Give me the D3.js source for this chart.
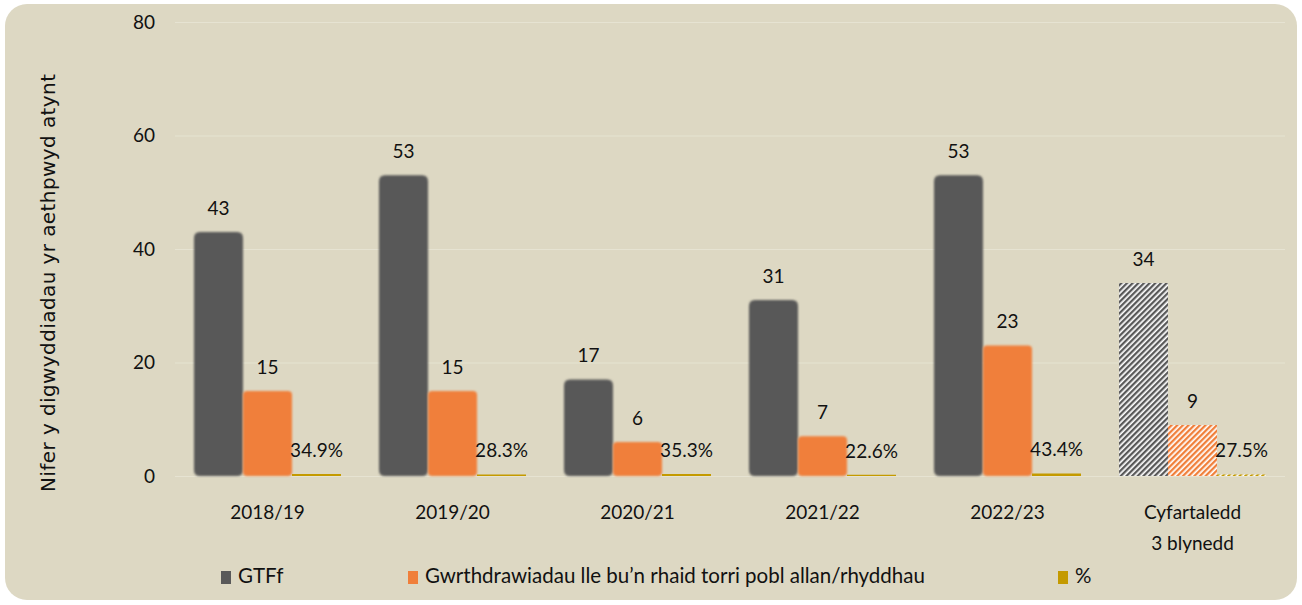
<!DOCTYPE html>
<html><head><meta charset="utf-8">
<script src="https://cdn.jsdelivr.net/npm/d3@7"></script>
<style>body{margin:0;background:#fff;} svg{display:block;}</style>
</head><body>
<svg id="c" width="1302" height="605"></svg>
<script>
const categories = ["2018/19","2019/20","2020/21","2021/22","2022/23","Cyfartaledd\n3 blynedd"];
const gtff = [43,53,17,31,53,34];
const extrications = [15,15,6,7,23,9];
const pct = [0.349,0.283,0.353,0.226,0.434,0.275];
const yTicks = [0,20,40,60,80];
const seriesNames = ["GTFf","Gwrthdrawiadau lle bu’n rhaid torri pobl allan/rhyddhau","%"];
const colors = ["#595959","#f07f3a","#c49a00"];

const svg = d3.select("#c");
const defs = svg.append("defs");
const mkPat = (id, col) => {
  const p = defs.append("pattern").attr("id", id).attr("patternUnits","userSpaceOnUse")
    .attr("width",4).attr("height",4).attr("patternTransform","rotate(45)");
  p.append("rect").attr("width",4).attr("height",4).attr("fill","#ffffff");
  p.append("rect").attr("width",2.3).attr("height",4).attr("fill",col);
};
mkPat("h0", colors[0]); mkPat("h1", colors[1]); mkPat("h2", colors[2]);
const f = defs.append("filter").attr("id","sh").attr("x","-20%").attr("y","-20%").attr("width","140%").attr("height","140%");
f.append("feGaussianBlur").attr("stdDeviation",0.8);

svg.append("rect").attr("x",5).attr("y",4).attr("width",1292).attr("height",596)
  .attr("rx",22).attr("fill","#ddd8c3");

const font = "Lato, 'Open Sans', sans-serif";
const x = d3.scaleBand().domain(categories).range([175,1285]).paddingInner(0).paddingOuter(0);
const y = d3.scaleLinear().domain([0,80]).range([476,22]);
const x1 = d3.scaleBand().domain([0,1,2]).range([19, 166]).paddingInner(0).paddingOuter(0);

// gridlines
svg.append("g").selectAll("line").data(yTicks).join("line")
  .attr("x1",175).attr("x2",1285).attr("y1",d=>y(d)+0.5).attr("y2",d=>y(d)+0.5)
  .attr("stroke","#e6e3d2").attr("stroke-width",1.2);

// y axis
const ya = d3.axisLeft(y).tickValues(yTicks).tickSize(0).tickPadding(0);
const yg = svg.append("g").attr("transform","translate(155,0)").call(ya);
yg.select(".domain").remove();
yg.selectAll("text").attr("font-family",font).attr("font-size",19).attr("fill","#111");

svg.append("text").attr("transform","translate(49,283) rotate(-90)")
  .attr("text-anchor","middle").attr("dominant-baseline","middle")
  .attr("font-family","'DejaVu Sans', Verdana, sans-serif").attr("font-size",20).attr("fill","#111")
  .attr("textLength",418).attr("lengthAdjust","spacing")
  .text("Nifer y digwyddiadau yr aethpwyd atynt");

const series = [gtff, extrications, pct];
const fmt = [d=>d, d=>d, d=>(d*100).toFixed(1)+"%"];
const radii = [6,4,0];
const last = categories.length-1;
series.forEach((vals, s) => {
  const g = svg.append("g");
  g.selectAll("path").data(vals).join("path")
    .attr("filter", (d,i)=> (i===last||s===2) ? null : "url(#sh)")
    .attr("fill",(d,i)=> i===last ? `url(#h${s})` : colors[s])
    .attr("d",(d,i)=>{
      const x0 = x(categories[i]) + x1(s), w = x1.bandwidth();
      const y0 = y(d), h = y(0)-y(d);
      const r = i===last ? 0 : Math.min(radii[s], h/2, w/2);
      const p = d3.path();
      p.moveTo(x0+r,y0); p.lineTo(x0+w-r,y0); p.quadraticCurveTo(x0+w,y0,x0+w,y0+r);
      p.lineTo(x0+w,y0+h-r); p.quadraticCurveTo(x0+w,y0+h,x0+w-r,y0+h);
      p.lineTo(x0+r,y0+h); p.quadraticCurveTo(x0,y0+h,x0,y0+h-r);
      p.lineTo(x0,y0+r); p.quadraticCurveTo(x0,y0,x0+r,y0); p.closePath();
      return p.toString();
    });
  g.selectAll("text").data(vals).join("text")
    .attr("x",(d,i)=> x(categories[i]) + x1(s) + x1.bandwidth()/2)
    .attr("y",d=> y(d) - 22)
    .attr("text-anchor","middle").attr("dominant-baseline","middle")
    .attr("font-family",font).attr("font-size",19).attr("fill","#111")
    .text(d=>fmt[s](d));
});

// x axis labels
const xl = svg.append("g");
categories.forEach(c=>{
  const t = xl.append("text").attr("x", x(c)+x.bandwidth()/2).attr("y",519)
    .attr("text-anchor","middle").attr("font-family",font).attr("font-size",19).attr("fill","#111");
  c.split("\n").forEach((ln,k)=> t.append("tspan").attr("x", x(c)+x.bandwidth()/2).attr("dy", k?31:0).text(ln));
});

// legend
const legX = [221, 408, 1058];
const lg = svg.append("g");
seriesNames.forEach((n,i)=>{
  lg.append("rect").attr("x",legX[i]).attr("y",571).attr("width",10).attr("height",13).attr("fill",colors[i]);
  lg.append("text").attr("x",legX[i]+17).attr("y",578).attr("dominant-baseline","middle")
    .attr("font-family",font).attr("font-size",20.5).attr("fill","#111").text(n);
});
</script>
</body></html>
